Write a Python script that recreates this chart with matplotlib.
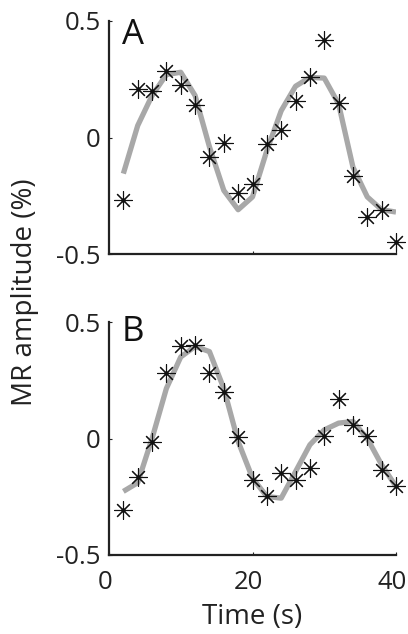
import matplotlib
matplotlib.use("Agg")
import matplotlib.pyplot as plt
import matplotlib.transforms as mtransforms

plt.rcParams['font.family'] = ['Open Sans', 'DejaVu Sans']

time_s = [2, 4, 6, 8, 10, 12, 14, 16, 18, 20, 22, 24, 26, 28, 30, 32, 34, 36, 38, 40]

a_measured = [-0.27, 0.21, 0.20, 0.286, 0.225, 0.14, -0.084, -0.024, -0.24, -0.20,
              -0.027, 0.033, 0.158, 0.258, 0.42, 0.147, -0.164, -0.34, -0.31, -0.447]
a_fit = [-0.155, 0.051, 0.18, 0.27, 0.28, 0.18, -0.04, -0.227, -0.31, -0.255,
         -0.056, 0.115, 0.22, 0.258, 0.255, 0.144, -0.127, -0.255, -0.31, -0.32]

b_measured = [-0.306, -0.166, -0.013, 0.28, 0.395, 0.40, 0.28, 0.20, 0.006, -0.177,
              -0.245, -0.149, -0.18, -0.127, 0.009, 0.17, 0.059, 0.009, -0.134, -0.206]
b_fit = [-0.227, -0.19, 0.0, 0.215, 0.35, 0.395, 0.373, 0.215, -0.013, -0.17,
         -0.249, -0.256, -0.142, -0.027, 0.037, 0.066, 0.073, 0.0, -0.113, -0.206]

panel_labels = ['A', 'B']
x_ticks = [0, 20, 40]
y_ticks = [-0.5, 0, 0.5]
y_ticklabels = ['-0.5', '0', '0.5']

W, H = 408, 634
fig = plt.figure(figsize=(W / 100, H / 100), dpi=100)

left = 109 / W
width = 287 / W
ax_top = fig.add_axes([left, 1 - 254 / H, width, 233 / H])
ax_bot = fig.add_axes([left, 1 - 555 / H, width, 233 / H])

grey = '#a8a8a8'
for ax, meas, fit, lab, show_x in [(ax_top, a_measured, a_fit, panel_labels[0], False),
                                   (ax_bot, b_measured, b_fit, panel_labels[1], True)]:
    ax.plot(time_s, fit, color=grey, lw=3.8, solid_capstyle='butt', zorder=2)
    ax.plot(time_s, meas, linestyle='none', marker=(8, 2, 0), markersize=13,
            markeredgewidth=0.8, color='#111111', clip_on=False, zorder=3)
    ax.plot(time_s, meas, linestyle='none', marker='o', markersize=2.0,
            color='#111111', clip_on=False, zorder=4)
    ax.set_xlim(0, 40)
    ax.set_ylim(-0.5, 0.5)
    ax.set_xticks(x_ticks)
    ax.set_yticks(y_ticks)
    ax.set_yticklabels(y_ticklabels)
    if not show_x:
        ax.set_xticklabels([])
    for s in ['top', 'right']:
        ax.spines[s].set_visible(False)
    for s in ['left', 'bottom']:
        ax.spines[s].set_linewidth(1.6)
        ax.spines[s].set_color('#222222')
    ax.tick_params(direction='in', length=2.5, width=0.8, labelsize=18.5,
                   colors='#222222')
    ax.tick_params(axis='x', pad=11)
    ax.tick_params(axis='y', pad=6)
    ax.text(3.3, 0.40 if lab == 'A' else 0.42, lab, fontsize=25, ha='center',
            va='baseline', color='#111111')

shift = mtransforms.ScaledTranslation(-4 / 100, 0, fig.dpi_scale_trans)
for t in ax_bot.get_xticklabels():
    t.set_transform(t.get_transform() + shift)

fig.text(252 / W, 1 - 617 / H, 'Time (s)', fontsize=20, ha='center', va='center',
         color='#222222')
fig.text(25 / W, 1 - 292 / H, 'MR amplitude (%)', fontsize=20, ha='center',
         va='center', rotation=90, color='#222222')

fig.savefig('out.png', dpi=100)
